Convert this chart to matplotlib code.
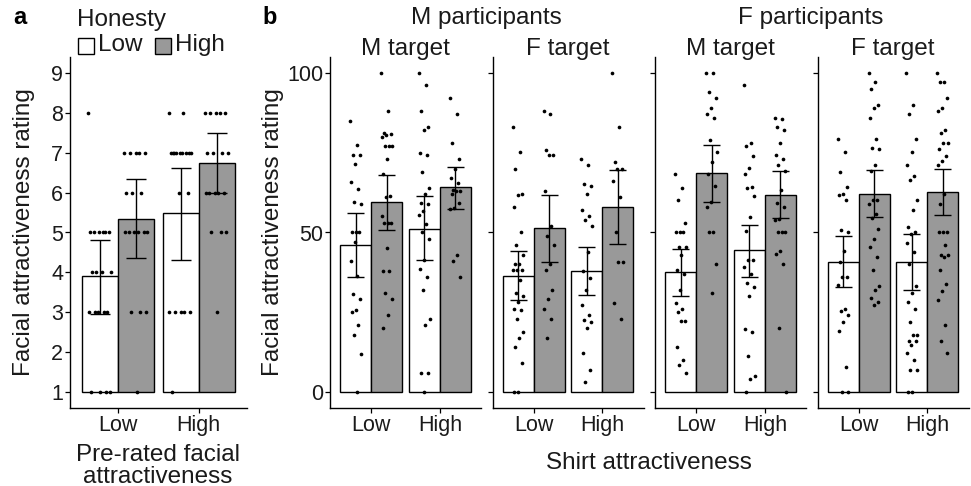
import matplotlib
matplotlib.use("Agg")
import matplotlib.pyplot as plt
import numpy as np
from matplotlib.patches import Rectangle

plt.rcParams["font.family"] = ["Liberation Sans", "DejaVu Sans"]

W, H = 971, 486
GREY = "#999999"
TXT = "#1a1a1a"

# ---- panel a: pre-rated facial attractiveness x honesty ----
a_groups = ["Low", "High"]
a_mean = {"Low": [3.9, 5.35], "High": [5.48, 6.75]}
a_lo = {"Low": [2.95, 4.35], "High": [4.32, 5.98]}
a_hi = {"Low": [4.8, 6.33], "High": [6.62, 7.5]}
a_pts = {
    ("Low", "Low"): [8, 5, 5, 5, 5, 5, 5, 4, 4, 4, 4, 3, 3, 3, 3, 3, 1, 1, 1, 1],
    ("Low", "High"): [7, 7, 7, 7, 7, 6, 6, 6, 5, 5, 5, 5, 5, 5, 3, 3, 3, 1],
    ("High", "Low"): [8, 8, 7, 7, 7, 7, 7, 7, 7, 7, 7, 6, 6, 3, 3, 3, 3, 3, 1],
    ("High", "High"): [8, 8, 8, 8, 8, 7, 7, 7, 7, 6, 6, 6, 6, 6, 5, 5, 5, 3],
}

# ---- panel b: shirt attractiveness, four facets ----
facets = [("M participants", "M target"), ("M participants", "F target"),
          ("F participants", "M target"), ("F participants", "F target")]
b_mean = [[46.1, 59.5, 51.2, 64.2], [36.4, 51.3, 37.9, 58.0],
          [37.5, 68.6, 44.4, 61.9], [40.8, 62.2, 40.8, 62.6]]
b_lo = [[36.1, 50.9, 41.3, 57.5], [28.7, 40.8, 30.3, 46.5],
        [30.2, 59.6, 36.1, 54.5], [32.8, 54.8, 32.0, 55.5]]
b_hi = [[56.0, 67.9, 61.5, 70.5], [44.3, 61.9, 45.5, 69.6],
        [44.8, 77.5, 52.4, 69.3], [48.8, 69.5, 49.6, 70.0]]
# order within a facet: (Low shirt, Low honesty), (Low, High), (High, Low), (High, High)
b_pts = [
    [
        [85, 77.3, 74.2, 74.2, 71.6, 65.7, 63.7, 59.5, 59, 50, 50, 50, 46.9, 41.2,
         36.5, 30.8, 29.3, 25.6, 25, 21, 18, 12, 0],
        [100, 88, 81.3, 80.8, 80.6, 80, 77.2, 77.2, 77.2, 73.1, 68.2, 61.4, 61,
         55.2, 53.1, 53.1, 53.1, 45, 38, 38, 31, 29.3, 24, 20],
        [100, 96.2, 88, 83.2, 82.2, 74.9, 74.2, 69, 63.8, 62.1, 59.3, 58.8, 56.7,
         55.6, 52.6, 50, 47.9, 41.4, 38.6, 36, 32, 23, 21, 6.1, 6.1, 0],
        [92, 87, 78, 73.1, 69.9, 67.1, 65.5, 63.2, 63, 63, 62, 59.1, 57.6, 57.3,
         42.9, 41.2, 36],
    ],
    [
        [83, 75.1, 70, 62.1, 61.7, 58, 50.2, 46.1, 43, 40.1, 40.1, 38.3, 38.3, 38.3,
         35, 31, 30, 28.2, 26.1, 25.8, 23, 18.9, 17, 14, 9, 0, 0],
        [88, 87, 76, 74.4, 74.2, 63, 51.9, 49, 46.1, 40.1, 38.1, 32, 29.3, 26.1,
         23, 17],
        [73.1, 71.1, 65.2, 64.7, 62.1, 57, 55.1, 53.8, 52.1, 43.8, 37.8, 35.7, 32,
         27.2, 24.1, 22.6, 22.1, 20.1, 12.1, 7, 3],
        [100, 83, 72, 70, 69.9, 66.1, 61.1, 50.2, 40.9, 40.9, 27.9, 23],
    ],
    [
        [68.2, 64, 60.1, 53.1, 50.2, 50.2, 50.2, 45.3, 45.3, 42.9, 38.3, 37, 32,
         27.9, 26.1, 25.1, 22.2, 22.2, 14, 10.1, 8.5, 6.1],
        [100, 100, 94.1, 92, 89.1, 87, 86, 79, 75.2, 72.1, 68.4, 64.5, 59.5, 58,
         50.2, 50.2, 40.1, 31],
        [96.2, 78, 77, 74.1, 70.2, 68.2, 64.3, 64.1, 61.4, 54.9, 50.5, 41.4, 41.4,
         39.1, 37, 34.1, 32.9, 30, 19.9, 18.9, 11.3, 5.1, 4, 0],
        [86, 85.6, 83.2, 82.2, 78, 74.2, 73.1, 71.3, 69.2, 63.2, 59.3, 58, 54.1,
         53.8, 50.2, 50.2, 50.2, 44.3, 43.3, 40.1, 20.1, 0],
    ],
    [
        [79.3, 75.1, 69, 64.3, 62.1, 61.6, 60.1, 50.7, 50, 44.3, 40.7, 36.2, 36,
         33.4, 26.1, 25.3, 24.1, 22, 19.1, 8, 0, 0],
        [100, 97.2, 95.1, 90.1, 88.9, 86, 79.3, 76.6, 76.1, 71, 69.2, 60.1, 60.1,
         58.8, 55.9, 54.6, 51, 48.1, 45.3, 42.4, 38.1, 33.1, 32, 29.5, 28.2, 27.2],
        [100, 90.1, 87, 79.3, 75.1, 71, 67.6, 66.6, 60.1, 57, 51.8, 50, 49.5, 46.7,
         43.8, 40.1, 33.1, 31, 28.2, 26.1, 22, 18, 18, 16.1, 16.1, 14.7, 12.1, 10.1,
         7, 7, 0, 0],
        [100, 97.2, 97.2, 92, 89, 88, 82.2, 81.1, 78.2, 78.2, 76.1, 73.9, 72.3, 71.3,
         62.1, 59, 50.2, 50.2, 50.2, 46.1, 43, 43, 42.2, 38.3, 33.9, 31.8, 29, 21,
         16.1, 12.1],
    ],
]

BW = 0.45
fig = plt.figure(figsize=(W / 100, H / 100), dpi=100)


def px_box(left, right, top, bottom):
    return [left / W, 1 - bottom / H, (right - left) / W, (bottom - top) / H]


def jitter(n, width):
    # deterministic spread, stands in for ggplot's random jitter
    k = np.arange(n)
    return ((k * 0.618034) % 1 - 0.5) * 2 * width


def style_axis(ax, ylim, yticks, labels):
    ax.set_xlim(0.4, 2.6)
    ax.set_ylim(*ylim)
    for s in ["top", "right"]:
        ax.spines[s].set_visible(False)
    for s in ["left", "bottom"]:
        ax.spines[s].set_linewidth(1.0)
        ax.spines[s].set_color("black")
    ax.set_xticks([1, 2])
    ax.set_xticklabels(["Low", "High"])
    ax.set_yticks(yticks)
    if labels:
        ax.set_yticklabels([str(t) for t in yticks])
    else:
        ax.set_yticklabels([])
    ax.tick_params(length=3.5, width=0.9, pad=1.5, labelsize=15.5, labelcolor=TXT)


def draw_group(ax, xc, means, lo, hi, pts, base, jw):
    for j, (fc, off) in enumerate([("white", -BW / 2), (GREY, BW / 2)]):
        x = xc + off
        ax.bar(x, means[j] - base, bottom=base, width=BW, color=fc,
               edgecolor="black", linewidth=1.0, zorder=2)
        yy = np.array(pts[j])
        ax.scatter(x + jitter(len(yy), jw), yy, s=7, color="black",
                   linewidths=0, zorder=3)
        ax.errorbar(x, means[j], yerr=[[means[j] - lo[j]], [hi[j] - means[j]]],
                    fmt="none", ecolor="black", elinewidth=1.0, capsize=0,
                    zorder=4)
        ax.hlines([lo[j], hi[j]], x - 0.125, x + 0.125, color="black",
                  linewidth=1.0, zorder=4)


# panel a
axa = fig.add_axes(px_box(70, 247, 57, 408))
style_axis(axa, (0.6, 9.4), list(range(1, 10)), True)
for i, g in enumerate(a_groups):
    draw_group(axa, i + 1, a_mean[g], a_lo[g], a_hi[g],
               [a_pts[(g, "Low")], a_pts[(g, "High")]], 1, 0.15)

# panel b
lefts = [330, 492.5, 655, 817.5]
for f, (part, targ) in enumerate(facets):
    ax = fig.add_axes(px_box(lefts[f], lefts[f] + 151, 57, 408))
    style_axis(ax, (-5, 105), [0, 50, 100], f == 0)
    for i in range(2):
        draw_group(ax, i + 1, b_mean[f][2 * i:2 * i + 2], b_lo[f][2 * i:2 * i + 2],
                   b_hi[f][2 * i:2 * i + 2], b_pts[f][2 * i:2 * i + 2], 0, 0.08)
    fig.text((lefts[f] + 75.5) / W, 1 - 49 / H, targ, ha="center", va="center",
             fontsize=17.5, color=TXT)

fig.text(486 / W, 1 - 18 / H, "M participants", ha="center", va="center",
         fontsize=17.5, color=TXT)
fig.text(811 / W, 1 - 18 / H, "F participants", ha="center", va="center",
         fontsize=17.5, color=TXT)

# axis titles
fig.text(24 / W, 1 - 232 / H, "Facial attractiveness rating", rotation=90,
         ha="center", va="center", fontsize=17.5, color=TXT)
fig.text(273 / W, 1 - 232 / H, "Facial attractiveness rating", rotation=90,
         ha="center", va="center", fontsize=17.5, color=TXT)
fig.text(158 / W, 1 - 466 / H, "Pre-rated facial\nattractiveness", ha="center",
         va="center", fontsize=17.5, color=TXT, linespacing=0.95)
fig.text(649 / W, 1 - 463 / H, "Shirt attractiveness", ha="center", va="center",
         fontsize=17.5, color=TXT)

# panel letters
fig.text(20 / W, 1 - 18 / H, "a", ha="center", va="center", fontsize=17,
         fontweight="bold")
fig.text(270 / W, 1 - 18 / H, "b", ha="center", va="center", fontsize=17,
         fontweight="bold")

# legend
fig.text(77 / W, 1 - 20 / H, "Honesty", ha="left", va="center", fontsize=17.5,
         color=TXT)
for xk, fc, lab in [(78, "white", "Low"), (155, GREY, "High")]:
    fig.add_artist(Rectangle((xk / W, 1 - 54 / H), 16 / W, 16 / H,
                             transform=fig.transFigure, facecolor=fc,
                             edgecolor="black", linewidth=1.0))
    fig.text((xk + 20) / W, 1 - 45 / H, lab, ha="left", va="center",
             fontsize=17.5, color=TXT)

fig.savefig("out.png", dpi=100)
